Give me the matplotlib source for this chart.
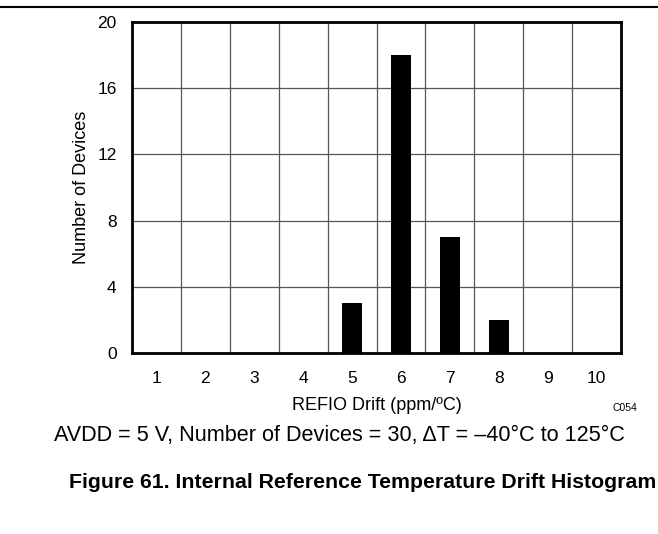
import matplotlib
matplotlib.use("Agg")
import matplotlib.pyplot as plt
from matplotlib.lines import Line2D

plt.rcParams['font.family'] = ['Liberation Sans', 'DejaVu Sans']

categories = [1, 2, 3, 4, 5, 6, 7, 8, 9, 10]
counts = [0, 0, 0, 0, 3, 18, 7, 2, 0, 0]
yticks = [0, 4, 8, 12, 16, 20]

W, H = 658, 534
fig = plt.figure(figsize=(W / 100, H / 100), dpi=100)
ax = fig.add_axes([132 / W, 1 - 353 / H, (621 - 132) / W, (353 - 22) / H])

ax.bar(categories, counts, width=0.4, color='black', zorder=3)
ax.set_xlim(0.5, 10.5)
ax.set_ylim(0, 20)
ax.set_xticks(categories)
ax.set_yticks(yticks)
ax.set_xticks([c + 0.5 for c in categories[:-1]], minor=True)
ax.tick_params(which='both', length=0, labelsize=12.5)
ax.tick_params(axis='x', pad=13)
ax.tick_params(axis='y', pad=11)
ax.grid(True, which='minor', axis='x', color='#555555', linewidth=0.9, zorder=1)
ax.grid(True, which='major', axis='y', color='#555555', linewidth=0.9, zorder=1)
for s in ax.spines.values():
    s.set_linewidth(2.0)
    s.set_zorder(4)

ax.set_xlabel('REFIO Drift (ppm/ºC)', fontsize=13, labelpad=8)
ax.set_ylabel('Number of Devices', fontsize=13, labelpad=5)

fig.text(625 / W, 1 - 408 / H, 'C054', fontsize=7.5, ha='center', va='center')
fig.text(339 / W, 1 - 435 / H, 'AVDD = 5 V, Number of Devices = 30, ΔT = \u201340°C to 125°C',
         fontsize=15.6, ha='center', va='center')
fig.text(363 / W, 1 - 483 / H, 'Figure 61. Internal Reference Temperature Drift Histogram',
         fontsize=15.3, fontweight='bold', ha='center', va='center')

fig.add_artist(Line2D([0, 1], [1 - 7 / H, 1 - 7 / H], transform=fig.transFigure,
                      color='black', linewidth=1.5))

fig.savefig('out.png', dpi=100)
